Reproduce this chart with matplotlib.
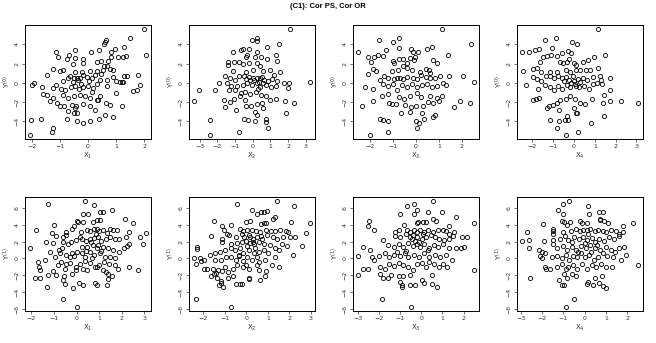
import matplotlib
matplotlib.use("Agg")
import matplotlib.pyplot as plt
from matplotlib.ticker import MultipleLocator
import numpy as np

title = "(C1): Cor PS, Cor OR"
x_labels = ["X$_1$", "X$_2$", "X$_3$", "X$_4$"]
y_labels = ["Y$^{(0)}$", "Y$^{(1)}$"]

# group 0: (x, y) pairs
y0_x1 = [(1.97, 5.55), (1.5, 4.69), (2.07, 2.83), (0.64, 4.45), (0.62, 4.2), (0.58, 4.0), (1.29, 3.76), (0.95, 3.48),
         (-1.15, 3.17), (-1.06, 2.69), (-0.66, 2.9), (-0.45, 3.4), (0.09, 3.17), (0.38, 3.4), (0.83, 3.14), (0.83, 2.72),
         (1.06, 2.72), (1.23, 2.72), (1.35, 2.8), (-0.76, 2.45), (-0.45, 2.55), (-0.17, 2.45), (-0.55, 2.0), (-0.18, 2.03),
         (0.33, 2.2), (0.45, 2.24), (0.72, 2.28), (-1.23, 1.38), (-0.98, 1.2), (-0.9, 1.34), (-0.46, 1.14), (-0.23, 1.17),
         (0.07, 1.2), (0.31, 1.24), (0.57, 1.69), (0.69, 1.69), (0.78, 1.45), (0.9, 1.34), (0.52, 1.34), (-1.45, 0.86),
         (-1.9, 0.03), (-2.0, -0.24), (-0.88, 0.2), (-0.7, 0.45), (-0.64, 0.66), (-0.5, 0.48), (-0.4, 0.52), (-0.28, 0.45),
         (-0.17, 0.83), (-0.02, 0.59), (0.13, 0.45), (0.25, 0.79), (0.9, 0.59), (1.0, 0.2), (1.12, 0.07), (1.23, 0.1),
         (1.28, 0.72), (1.38, 0.69), (1.79, 0.79), (0.43, 0.31), (0.66, 0.28), (0.69, -0.38), (-1.65, -0.48), (-1.23, -0.55),
         (-1.12, -0.2), (-0.97, -0.66), (-0.81, -0.72), (-0.62, -0.41), (-0.45, -0.31), (-0.31, -0.59), (-0.17, -0.45),
         (0.0, -0.38), (0.19, -0.55), (0.33, -0.17), (1.2, 0.07), (1.61, -0.83), (1.73, -0.72), (1.85, -0.2), (1.0, -1.07),
         (-1.61, -1.2), (-1.47, -1.28), (-1.23, -1.62), (-0.9, -1.28), (-0.7, -1.52), (-0.5, -1.41), (-0.28, -1.24),
         (-0.11, -1.41), (0.07, -1.55), (0.31, -1.76), (0.43, -1.41), (-1.35, -1.93), (-1.09, -2.1), (-1.0, -2.45),
         (-0.84, -2.38), (-0.58, -2.28), (-0.43, -2.45), (-0.17, -2.17), (0.07, -2.45), (0.36, -1.76), (0.64, -2.14),
         (0.78, -2.28), (1.19, -2.38), (-0.7, -2.9), (-0.5, -3.14), (-0.38, -3.14), (0.24, -2.79), (-0.45, -2.62),
         (-0.76, -3.72), (0.59, -3.38), (0.87, -3.52), (0.4, -3.79), (0.07, -4.0), (-0.18, -4.17), (-0.38, -4.0),
         (-2.04, -3.9), (-1.66, -3.76), (-1.23, -4.72), (-1.28, -5.14), (-2.07, -5.38),
         (-0.35, 0.3), (-0.55, 0.1), (0.05, 0.2), (-0.25, -0.1), (0.45, 0.9), (0.15, -0.9)]

y0_x2 = [(2.13, 5.55), (0.27, 4.69), (0.23, 4.28), (-0.06, 4.45), (1.48, 4.03), (0.83, 3.76), (-0.57, 3.48), (-0.19, 3.48),
         (-0.68, 3.4), (-1.14, 3.17), (-0.3, 2.9), (-0.38, 2.72), (0.23, 3.17), (0.15, 2.72), (0.49, 2.72), (0.83, 2.45),
         (1.29, 2.9), (1.37, 2.31), (-1.39, 2.2), (-1.06, 2.2), (-1.39, 1.86), (-0.76, 2.2), (-0.53, 1.93), (-0.23, 2.03),
         (0.27, 2.03), (0.42, 1.76), (-1.14, 1.24), (-0.38, 1.17), (0.04, 1.28), (0.57, 1.24), (0.95, 1.34), (1.18, 0.83),
         (1.56, 1.17), (-1.56, 0.66), (-1.29, 0.45), (-1.0, 0.31), (-0.76, 0.72), (-0.49, 0.72), (-0.23, 0.59), (0.0, 0.48),
         (0.27, 0.45), (0.42, 0.55), (0.64, 0.31), (0.85, 0.24), (1.08, 0.38), (1.37, 0.14), (-1.9, 0.03), (-2.14, -0.72),
         (-3.04, -0.79), (-3.34, -1.93), (3.26, 0.07), (-1.48, -0.03), (-1.2, -0.31), (-0.87, -0.38), (-0.57, -0.2),
         (-0.3, 0.03), (-0.06, -0.2), (0.23, -0.03), (0.42, -0.45), (0.76, -0.24), (1.02, -0.45), (1.33, -0.31),
         (1.75, -0.03), (1.97, -0.55), (2.03, 0.03), (-1.33, -0.79), (-0.99, -0.72), (-0.68, -1.07), (-0.42, -0.9),
         (-0.15, -1.14), (0.19, -1.0), (0.46, -1.28), (0.76, -1.41), (-1.63, -1.83), (-1.29, -2.03), (-1.06, -1.69),
         (-0.72, -1.41), (-0.44, -1.76), (-0.11, -2.38), (0.23, -2.17), (0.53, -2.1), (0.99, -1.76), (1.33, -1.69),
         (1.84, -1.93), (2.31, -2.1), (1.9, -3.14), (-1.56, -2.52), (-0.95, -2.79), (-0.38, -2.45), (0.15, -2.97),
         (0.27, -3.31), (0.61, -2.62), (-0.49, -3.72), (-0.25, -3.83), (0.13, -4.0), (0.76, -3.76), (0.76, -4.03),
         (0.85, -4.69), (-2.43, -3.9), (-0.78, -5.14), (-2.43, -5.38),
         (0.1, 0.3), (0.35, 0.1), (-0.15, 0.25), (0.55, 0.6), (0.6, -0.05), (-0.4, 0.4), (0.3, -0.6)]

y0_x3 = [(1.15, 5.55), (2.41, 4.03), (-1.62, 4.45), (-1.03, 4.24), (-0.76, 4.69), (-2.56, 3.17), (-2.1, 2.72), (-1.85, 2.72),
         (-1.65, 2.9), (-1.44, 2.8), (-1.32, 3.4), (-0.74, 3.59), (-1.96, 2.2), (-1.03, 2.28), (-0.97, 2.03), (-0.74, 2.45),
         (-0.59, 2.45), (-0.21, 3.48), (-0.12, 3.24), (0.1, 3.14), (-0.03, 2.72), (-0.26, 2.55), (-0.09, 2.38),
         (-0.38, 2.03), (-0.56, 1.76), (0.5, 3.48), (0.71, 3.76), (0.74, 2.38), (0.91, 2.1), (1.41, 2.86), (-1.88, 1.41),
         (-1.76, 1.24), (-2.1, 0.9), (-1.07, 1.24), (-0.78, 1.34), (-0.38, 1.52), (-0.19, 1.34), (0.18, 1.14), (0.44, 1.41),
         (0.56, 1.28), (0.62, 1.0), (-1.59, 0.31), (-1.41, 0.72), (-1.21, 0.48), (-0.97, 0.38), (-0.82, 0.45), (-0.71, 0.45),
         (-0.56, 0.38), (-0.38, 0.59), (-0.15, 0.48), (0.03, 0.38), (0.21, 0.79), (0.44, 0.59), (0.62, 0.45), (0.84, 0.55),
         (1.06, 0.72), (1.43, 0.69), (2.06, 0.72), (2.56, 0.07), (-2.24, -0.48), (-1.88, -0.62), (-1.44, -0.1),
         (-1.22, -0.31), (-1.03, -0.1), (-0.82, -0.72), (-0.62, -0.2), (-0.38, -0.45), (-0.19, -0.1), (0.03, -0.45),
         (0.25, -0.24), (0.5, -0.1), (0.69, -0.45), (0.91, -0.31), (1.18, -0.03), (1.32, -0.24), (-1.51, -1.41),
         (-1.22, -1.14), (-0.74, -1.48), (-0.53, -1.69), (-0.26, -1.34), (0.06, -1.07), (0.21, -1.48), (0.62, -1.41),
         (0.91, -1.59), (1.15, -1.34), (-2.38, -2.45), (-1.88, -1.93), (-1.18, -2.1), (-1.07, -2.17), (-0.88, -2.17),
         (-0.49, -2.28), (-0.24, -2.52), (0.0, -2.38), (0.32, -2.38), (0.54, -2.03), (0.76, -2.1), (0.99, -1.93),
         (1.65, -2.52), (1.91, -1.9), (2.35, -2.1), (-0.66, -3.14), (-0.26, -2.97), (0.25, -3.14), (0.76, -3.55),
         (0.84, -3.38), (0.35, -3.72), (-1.56, -3.76), (-1.47, -3.9), (-1.24, -4.0), (0.0, -4.0), (0.12, -4.17),
         (0.06, -4.69), (-1.22, -5.14), (-2.03, -5.38)]

y0_x4 = [(1.16, 5.55), (-0.88, 4.69), (-1.41, 4.45), (-0.08, 4.24), (0.14, 4.03), (-1.05, 3.59), (-2.51, 3.17), (-2.14, 3.24),
         (-1.88, 3.4), (-1.66, 3.48), (-1.5, 2.72), (-1.29, 2.8), (-1.1, 2.9), (-0.82, 2.8), (-0.56, 3.07), (-0.29, 3.31),
         (-0.13, 3.07), (-1.62, 2.2), (-0.69, 2.17), (-0.53, 2.03), (-0.34, 2.2), (-0.24, 2.45), (-0.02, 2.03), (0.11, 1.86),
         (0.43, 2.2), (0.68, 2.38), (0.95, 2.66), (1.48, 2.86), (-2.43, 1.2), (-1.95, 1.41), (-1.79, 1.52), (-1.58, 1.07),
         (-1.17, 1.17), (-0.82, 1.07), (-0.4, 1.34), (-0.21, 1.07), (0.11, 1.34), (0.31, 1.28), (0.56, 1.34), (0.76, 1.34),
         (1.16, 1.52), (-2.3, -0.24), (-1.98, 0.59), (-1.79, 0.38), (-1.59, 0.14), (-1.33, 0.66), (-1.17, 0.72),
         (-0.98, 0.48), (-0.76, 0.72), (-0.59, 0.45), (-0.4, 0.59), (-0.24, 0.31), (-0.05, 0.66), (0.19, 0.38), (0.43, 0.45),
         (0.63, 0.31), (0.92, 0.59), (1.27, 0.72), (1.32, 0.31), (1.72, 0.55), (-1.74, -0.66), (-1.37, -0.2), (-1.17, -0.45),
         (-0.98, -0.72), (-0.79, -0.31), (-0.59, -0.66), (-0.34, -0.2), (-0.18, -0.45), (0.05, -0.1), (0.24, -0.45),
         (0.47, -0.31), (0.72, -0.66), (0.92, -0.1), (1.11, 0.03), (1.33, -0.1), (1.43, -1.24), (1.75, -0.79),
         (-1.98, -1.76), (-1.82, -1.69), (-1.69, -1.59), (-1.21, -2.45), (-1.01, -2.28), (-0.82, -2.1), (-0.66, -1.83),
         (-0.4, -1.69), (-0.21, -1.41), (0.03, -1.69), (0.27, -2.1), (0.51, -2.17), (0.85, -1.69), (1.4, -2.1),
         (1.72, -1.93), (2.28, -1.93), (3.09, -2.1), (-1.3, -2.62), (-0.72, -2.79), (-0.02, -2.62), (0.08, -3.14),
         (0.14, -3.14), (-0.34, -3.41), (1.43, -3.48), (-1.14, -3.9), (-0.72, -4.0), (-0.45, -3.83), (-0.31, -3.9),
         (0.8, -4.17), (-0.82, -4.69), (0.19, -5.14), (-0.4, -5.38),
         (0.0, 0.2), (-0.15, -0.05), (0.3, 0.1), (-0.5, 0.15), (0.1, -0.3)]

# group 1
y1_x1 = [(0.37, 6.75), (-1.26, 6.47), (0.77, 6.27), (1.04, 5.49), (1.19, 5.45), (1.56, 5.76), (0.3, 5.29), (0.52, 5.29),
         (2.15, 4.71), (2.52, 4.24), (0.0, 4.39), (0.06, 4.27), (0.3, 4.27), (0.74, 4.31), (0.89, 4.59), (1.04, 4.51),
         (-1.01, 3.92), (-1.78, 3.33), (-1.07, 3.02), (-0.47, 3.14), (-0.22, 3.53), (-0.12, 3.8), (0.21, 3.14), (0.47, 3.33),
         (0.59, 3.22), (0.77, 3.53), (0.89, 3.53), (1.01, 3.25), (1.19, 3.33), (1.34, 3.02), (1.48, 3.53), (1.63, 3.33),
         (1.78, 3.41), (2.34, 3.14), (3.09, 3.06), (2.79, 2.55), (-0.92, 2.63), (-0.59, 2.55), (-0.45, 2.75), (-0.27, 1.96),
         (-0.03, 2.16), (0.15, 2.55), (0.42, 2.08), (0.59, 2.35), (0.77, 2.47), (0.96, 2.55), (1.07, 2.08), (1.31, 2.24),
         (1.48, 2.55), (1.71, 2.35), (1.87, 2.35), (2.17, 2.55), (2.3, 1.76), (-1.34, 1.96), (-1.04, 1.84), (-0.59, 1.96),
         (-0.37, 1.76), (-0.65, 1.18), (-0.8, 1.06), (0.22, 1.37), (0.47, 1.37), (0.71, 1.57), (0.89, 1.18), (1.19, 1.37),
         (1.41, 1.29), (1.63, 1.06), (1.9, 0.78), (2.11, 1.29), (2.23, 1.45), (2.94, 1.69), (-2.08, 1.18), (-1.19, 0.71),
         (-0.96, 0.12), (-0.74, 0.59), (-0.45, 0.39), (-0.3, 0.12), (-0.12, 0.27), (0.03, 0.78), (0.22, 0.59), (0.37, 0.12),
         (0.59, 0.78), (0.77, 0.39), (1.04, 0.59), (1.26, 0.12), (1.48, 0.2), (1.71, 0.0), (-1.71, -0.39), (-1.66, -0.98),
         (-1.41, -0.2), (-1.6, -1.37), (-0.82, -0.78), (-0.67, -0.43), (-0.47, -0.59), (-0.3, -0.51), (-0.03, -0.98),
         (0.15, -0.59), (0.37, -0.27), (0.59, -0.51), (0.82, -0.98), (1.01, -0.78), (1.22, -0.39), (1.45, -0.59),
         (1.71, -0.78), (-1.85, -2.35), (-1.6, -2.24), (-1.26, -2.0), (-1.04, -1.45), (-0.52, -1.29), (-0.92, -2.0),
         (-0.55, -2.08), (-0.22, -1.84), (-0.03, -1.37), (0.3, -1.18), (0.47, -1.37), (0.89, -1.06), (1.19, -1.37),
         (1.31, -1.57), (1.41, -1.88), (1.56, -2.08), (1.85, -1.25), (2.3, -0.98), (2.7, -1.37), (-0.59, -2.55),
         (-0.52, -3.02), (-0.15, -3.45), (0.12, -2.86), (0.27, -3.14), (0.82, -2.86), (0.89, -3.14), (1.34, -3.14),
         (1.37, -2.39), (-1.29, -3.33), (-0.62, -4.82), (0.0, -5.69),
         (0.65, 1.9), (0.85, 2.9), (0.95, 1.6), (0.4, 0.9), (1.1, 0.9), (0.25, 2.3), (0.7, 0.1), (-0.2, 0.6)]

y1_x2 = [(1.45, 6.75), (-0.42, 6.47), (2.23, 6.24), (0.25, 5.76), (0.67, 5.49), (0.83, 5.45), (0.95, 5.57), (0.48, 5.29),
         (1.26, 4.71), (1.34, 4.9), (-1.51, 4.39), (-0.02, 4.27), (0.17, 4.43), (0.67, 4.12), (0.83, 4.24), (0.92, 4.24),
         (2.07, 4.31), (2.98, 4.24), (-0.69, 3.92), (-1.11, 3.8), (-0.3, 3.53), (-0.17, 3.25), (0.05, 3.33), (0.25, 3.41),
         (0.45, 3.25), (0.64, 3.14), (0.92, 3.33), (1.14, 3.22), (1.34, 3.25), (1.57, 3.33), (1.85, 3.25), (1.96, 3.14),
         (2.79, 3.06), (-1.62, 2.63), (-1.04, 3.33), (-0.92, 2.94), (-0.79, 2.75), (-0.48, 2.55), (-0.22, 2.94),
         (-0.11, 2.55), (0.14, 2.75), (0.33, 2.35), (0.51, 2.55), (0.72, 2.24), (0.98, 2.75), (1.23, 2.55), (1.45, 2.35),
         (1.73, 2.55), (2.04, 2.55), (2.26, 2.55), (-1.15, 2.35), (-1.11, 1.96), (-0.73, 1.69), (-0.45, 1.84), (-0.2, 1.96),
         (-0.02, 2.08), (0.17, 1.84), (0.36, 1.69), (0.61, 1.96), (0.83, 1.76), (1.11, 1.57), (1.34, 1.29), (1.67, 1.76),
         (1.88, 1.45), (2.59, 1.45), (-2.29, 1.37), (-2.29, 1.1), (-1.7, 0.43), (-1.46, 0.67), (-1.23, 0.78), (-1.0, 1.06),
         (-0.73, 1.29), (-0.53, 0.98), (-0.3, 1.18), (-0.14, 0.67), (0.14, 0.98), (0.36, 0.59), (0.61, 0.78), (0.83, 1.06),
         (1.03, 0.59), (1.34, 0.12), (2.16, 0.39), (1.51, 0.98), (-2.45, 0.08), (-2.16, 0.08), (-1.98, -0.2), (-2.35, -0.59),
         (-2.13, -0.27), (-1.46, -0.12), (-1.2, -0.2), (-0.95, 0.12), (-0.69, 0.2), (-0.48, -0.12), (-0.33, 0.27),
         (-0.17, -0.27), (0.05, 0.12), (0.25, -0.2), (0.48, 0.2), (0.61, -0.39), (0.87, -0.2), (1.18, -0.78), (1.5, -1.06),
         (-1.98, -1.29), (-1.82, -1.22), (-1.57, -1.29), (-1.42, -1.76), (-1.31, -1.37), (-1.15, -1.45), (-0.98, -0.98),
         (-0.84, -1.57), (-0.61, -1.18), (-0.42, -0.78), (-0.17, -0.98), (-0.02, -0.78), (0.14, -1.29), (0.48, -0.78),
         (0.61, -1.37), (0.92, -1.45), (-1.62, -2.08), (-1.51, -1.84), (-1.36, -2.24), (-1.2, -2.63), (-1.26, -3.14),
         (-1.07, -3.33), (-1.17, -2.94), (-0.84, -2.24), (-0.64, -2.08), (-0.48, -3.06), (-0.3, -3.06), (-0.22, -3.06),
         (0.14, -2.24), (0.14, -2.47), (0.64, -2.55), (0.87, -2.08), (-2.35, -4.82), (-0.73, -5.69),
         (0.3, 2.0), (0.05, 1.5), (0.4, 1.2), (0.7, 2.7), (-0.35, 0.4), (0.15, 2.5)]

y1_x3 = [(0.54, 6.75), (-0.35, 6.47), (-0.67, 6.24), (-0.22, 5.76), (-0.35, 5.29), (-0.98, 5.29), (0.33, 5.49), (0.97, 5.45),
         (-2.48, 4.39), (-2.52, 3.8), (-2.21, 3.33), (0.54, 4.71), (0.7, 4.43), (1.65, 4.9), (2.51, 4.24), (1.33, 3.8),
         (-0.83, 3.92), (-0.22, 4.2), (-0.13, 4.31), (0.1, 4.31), (0.22, 4.31), (-1.25, 3.14), (-1.05, 3.41), (-0.67, 3.33),
         (-0.51, 3.14), (-0.35, 3.41), (-0.22, 3.14), (-0.06, 3.33), (0.13, 3.14), (0.33, 3.41), (0.54, 3.14), (0.81, 3.41),
         (1.02, 3.41), (1.17, 3.25), (1.29, 2.94), (1.56, 3.14), (-2.73, 1.37), (-2.44, 1.06), (-1.81, 2.16), (-1.25, 2.63),
         (-1.02, 2.55), (-0.7, 2.86), (-0.54, 2.55), (-0.38, 2.75), (-0.19, 2.55), (0.02, 2.35), (0.22, 2.55), (0.44, 2.75),
         (0.65, 2.55), (0.86, 2.35), (1.08, 2.16), (1.29, 2.35), (1.49, 2.63), (1.92, 2.55), (2.16, 2.55), (-1.57, 1.57),
         (-1.3, 1.37), (-1.05, 1.69), (-0.86, 1.37), (-0.62, 1.84), (-0.41, 1.45), (-0.22, 1.69), (-0.06, 1.37),
         (0.13, 1.76), (0.38, 1.29), (0.6, 1.57), (0.81, 1.37), (1.02, 1.69), (1.29, 1.18), (1.65, 1.29), (1.87, 1.18),
         (2.03, 1.37), (-3.0, 0.27), (-2.32, 0.12), (-2.21, -0.2), (-1.97, 0.27), (-1.73, 0.59), (-1.52, 0.12), (-1.3, 0.39),
         (-1.14, 0.78), (-0.98, 0.27), (-0.78, 0.67), (-0.62, 0.12), (-0.35, 0.39), (-0.1, 0.12), (0.13, 0.59), (0.38, 0.2),
         (0.65, 0.39), (0.89, 0.12), (1.17, 0.39), (1.44, -0.12), (-2.73, -1.29), (-2.52, -1.29), (-1.94, -0.98),
         (-1.73, -1.29), (-1.52, -0.59), (-1.3, -0.9), (-1.05, -0.51), (-0.86, -0.78), (-0.62, -0.98), (-0.41, -1.37),
         (-0.22, -0.67), (0.02, -0.51), (0.22, -0.98), (0.38, -0.39), (0.6, -0.59), (0.86, -1.06), (1.05, -0.67),
         (1.21, -1.06), (2.51, -1.37), (-3.0, -1.96), (-1.94, -1.84), (-1.81, -2.35), (-1.57, -2.35), (-1.41, -1.96),
         (-1.05, -2.08), (-0.86, -2.08), (-1.02, -2.75), (-0.89, -3.14), (-0.89, -3.41), (-0.54, -1.96), (-0.51, -3.14),
         (-0.3, -3.14), (0.02, -2.55), (0.13, -2.86), (0.49, -1.96), (0.49, -3.02), (0.73, -3.33), (-1.84, -4.82),
         (-0.46, -5.69),
         (-0.3, 2.1), (-0.1, 1.9), (0.1, 2.9), (-0.45, 2.3), (0.3, 1.0), (-0.7, 0.9)]

y1_x4 = [(-0.72, 6.75), (-1.03, 6.47), (0.17, 6.24), (-1.23, 5.76), (-1.03, 5.29), (0.22, 5.29), (0.69, 5.49), (0.88, 5.45),
         (-1.95, 4.12), (-1.08, 4.39), (-0.97, 4.31), (-0.69, 4.31), (-0.22, 4.43), (-0.14, 4.2), (0.12, 4.24), (0.72, 4.71),
         (0.72, 4.51), (0.91, 4.43), (1.11, 4.24), (2.28, 4.24), (1.81, 3.8), (-2.69, 3.14), (-1.5, 3.53), (-1.5, 3.25),
         (-1.0, 3.14), (-0.84, 3.92), (-0.66, 3.25), (-0.38, 3.53), (-0.22, 3.25), (-0.06, 3.41), (0.09, 3.33), (0.25, 3.49),
         (0.48, 3.25), (0.64, 3.41), (0.88, 3.25), (1.0, 3.1), (1.22, 3.41), (1.47, 3.25), (1.78, 3.14), (1.63, 2.94),
         (-2.95, 2.04), (-2.59, 2.16), (-1.91, 2.04), (-1.5, 2.86), (-1.47, 2.16), (-1.16, 2.35), (-0.92, 2.63),
         (-0.77, 2.16), (-0.5, 2.55), (-0.25, 2.24), (-0.06, 2.55), (0.12, 2.16), (0.33, 2.47), (0.48, 1.96), (0.69, 2.35),
         (0.91, 2.08), (1.16, 2.55), (1.38, 2.24), (1.63, 2.63), (-2.59, 1.18), (-2.12, 1.06), (-2.02, 0.78), (-1.86, 0.59),
         (-1.5, 1.69), (-1.31, 1.18), (-1.03, 1.45), (-0.81, 0.98), (-0.61, 1.37), (-0.38, 1.06), (-0.19, 1.45),
         (0.06, 1.18), (0.25, 1.57), (0.48, 1.29), (0.72, 1.06), (1.0, 1.37), (1.22, 1.06), (1.42, 0.78), (1.63, 1.29),
         (1.84, 1.37), (-2.09, 0.27), (-2.02, 0.0), (-1.55, 0.2), (-1.28, 0.27), (-1.08, 0.0), (-0.88, 0.39), (-0.72, -0.12),
         (-0.53, 0.27), (-0.34, 0.12), (-0.19, 0.59), (0.02, 0.12), (0.22, 0.39), (0.44, -0.2), (0.64, 0.12), (0.84, 0.59),
         (1.06, 0.27), (1.31, 0.12), (1.73, -0.12), (1.94, 0.39), (2.52, -0.78), (-1.86, -0.98), (-1.81, -1.29),
         (-1.63, -1.18), (-1.28, -0.98), (-1.08, -0.67), (-0.88, -1.29), (-0.77, -0.98), (-0.56, -0.78), (-0.34, -1.18),
         (-0.14, -0.59), (0.09, -1.29), (0.33, -0.78), (0.53, -0.98), (0.75, -0.59), (1.0, -1.06), (1.27, -0.98),
         (-2.56, -2.35), (-1.19, -2.55), (-1.08, -3.14), (-0.97, -3.14), (-0.97, -1.84), (-0.81, -2.35), (-0.61, -1.84),
         (-0.38, -2.08), (0.09, -3.06), (0.17, -2.75), (0.41, -3.14), (0.48, -2.35), (0.69, -2.94), (0.8, -2.08),
         (1.0, -3.45), (0.84, -3.29), (-0.5, -4.82), (-0.88, -5.69),
         (0.0, 1.8), (-0.3, 0.8), (0.3, 0.8), (-0.6, 1.9), (0.15, 2.9), (0.6, 1.6)]

panels = [[y0_x1, y0_x2, y0_x3, y0_x4], [y1_x1, y1_x2, y1_x3, y1_x4]]

W, H = 656, 343
fig = plt.figure(figsize=(W / 100, H / 100), dpi=100)

lefts = [25, 189, 353, 517]
tops = [25, 197]
box_w, box_h = 126, 114

for r in range(2):
    for c in range(4):
        pts = np.array(panels[r][c])
        ax = fig.add_axes([lefts[c] / W, 1 - (tops[r] + box_h) / H, box_w / W, box_h / H])
        ax.plot(pts[:, 0], pts[:, 1], 'o', markersize=3.0, markerfacecolor='none',
                markeredgecolor='black', markeredgewidth=0.6)
        ax.margins(x=0.04, y=0.04)
        ax.xaxis.set_major_locator(MultipleLocator(1))
        ax.yaxis.set_major_locator(MultipleLocator(2))
        ax.tick_params(length=2.2, width=0.5, labelsize=4.5, pad=1.5, colors='#333333')
        for lab in ax.get_yticklabels():
            lab.set_rotation(90)
            lab.set_va('center')
        for s in ax.spines.values():
            s.set_linewidth(0.7)
        ax.set_xlabel(x_labels[c], fontsize=5, labelpad=1, color='#333333')
        ax.set_ylabel(y_labels[r], fontsize=5, labelpad=1, color='#333333')

fig.text(0.5, 1 - 7 / H, title, ha='center', va='center', fontsize=5.5, fontweight='bold',
         family='Liberation Sans')

fig.savefig('out.png', dpi=100)
